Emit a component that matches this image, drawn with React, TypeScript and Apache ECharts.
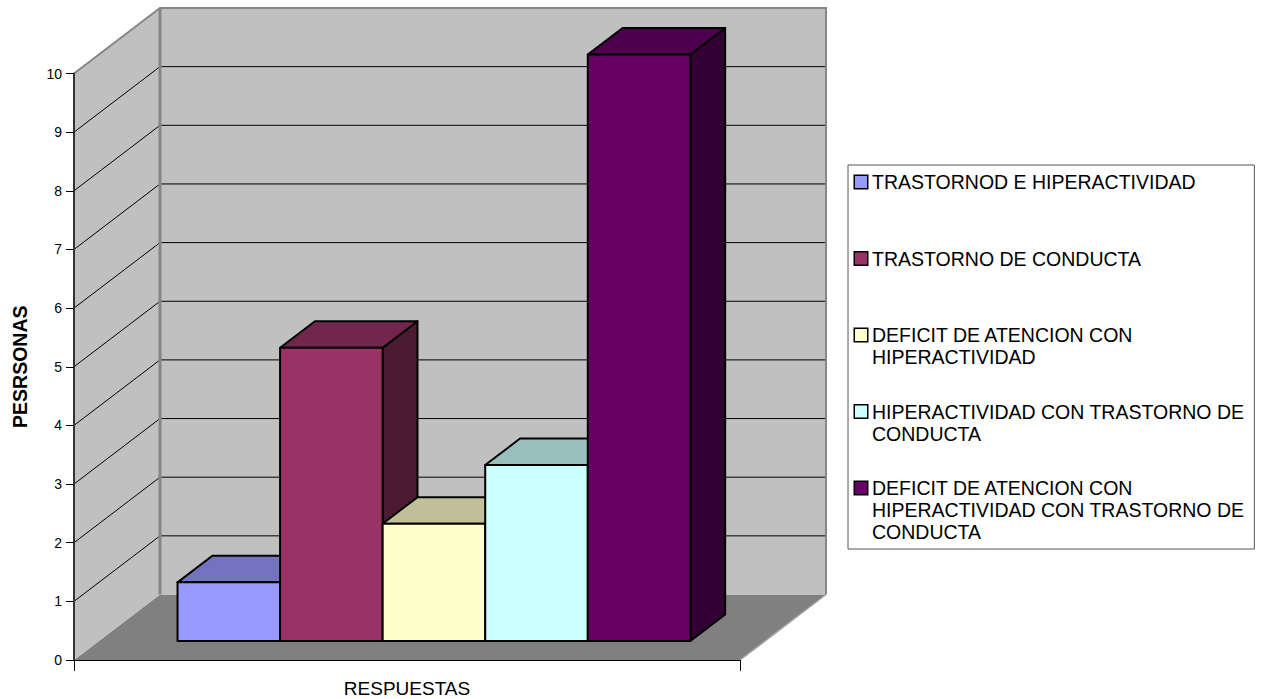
import React, { useEffect, useRef } from 'react';
import * as echarts from 'echarts';

// ---- data ----
const categories = ['RESPUESTAS'];
const seriesNames = [
  'TRASTORNOD E HIPERACTIVIDAD',
  'TRASTORNO DE CONDUCTA',
  'DEFICIT DE ATENCION CON HIPERACTIVIDAD',
  'HIPERACTIVIDAD CON TRASTORNO DE CONDUCTA',
  'DEFICIT DE ATENCION CON HIPERACTIVIDAD CON TRASTORNO DE CONDUCTA',
];
const seriesValues = [1, 5, 2, 3, 10];
const yTicks = [0, 1, 2, 3, 4, 5, 6, 7, 8, 9, 10];
const legendLines = [
  ['TRASTORNOD E HIPERACTIVIDAD'],
  ['TRASTORNO DE CONDUCTA'],
  ['DEFICIT DE ATENCION CON', 'HIPERACTIVIDAD'],
  ['HIPERACTIVIDAD CON TRASTORNO DE', 'CONDUCTA'],
  ['DEFICIT DE ATENCION CON', 'HIPERACTIVIDAD CON TRASTORNO DE', 'CONDUCTA'],
];
const yAxisTitle = 'PESRSONAS';

// ---- styles ----
const palette = ['#9999FF', '#993366', '#FFFFCC', '#CCFFFF', '#660066'];
const FONT = '"Liberation Sans", Arial, sans-serif';
const DX = 86; // depth offset of the floor (px)
const DY = 65.5;
const F0 = 0.29; // bar front depth fraction
const F1 = 0.695; // bar back depth fraction
const CLUSTER = 0.77; // fraction of category band used by bars
const CLUSTER_SHIFT = 0.003; // small rightward shift of the cluster (fraction of band)

function shade(hex: string, f: number): string {
  const n = parseInt(hex.slice(1), 16);
  const r = Math.round(((n >> 16) & 255) * f);
  const g = Math.round(((n >> 8) & 255) * f);
  const b = Math.round((n & 255) * f);
  return 'rgb(' + r + ',' + g + ',' + b + ')';
}

export default function App() {
  const ref = useRef<HTMLDivElement>(null);
  useEffect(() => {
    if (!ref.current) return;
    const chart = echarts.init(ref.current, null, { renderer: 'svg' });
    const yMin = yTicks[0];
    const yMax = yTicks[yTicks.length - 1];

    const wallSeries: any = {
      type: 'custom',
      name: '__walls',
      z: -1,
      silent: true,
      data: [[0, 0]],
      renderItem: (params: any, api: any) => {
        const cs = params.coordSys;
        const x0 = cs.x;
        const x1 = cs.x + cs.width;
        const yB = api.coord([0, yMin])[1];
        const yT = api.coord([0, yMax])[1];
        const children: any[] = [];
        children.push({
          type: 'polygon',
          shape: { points: [[x0, yB], [x1, yB], [x1 + DX, yB - DY], [x0 + DX, yB - DY]] },
          style: { fill: '#808080', stroke: null },
        });
        children.push({
          type: 'rect',
          shape: { x: x0 + DX, y: yT - DY, width: x1 - x0, height: yB - yT },
          style: { fill: '#C0C0C0', stroke: null },
        });
        children.push({
          type: 'polygon',
          shape: { points: [[x0, yB], [x0, yT], [x0 + DX, yT - DY], [x0 + DX, yB - DY]] },
          style: { fill: '#C0C0C0', stroke: null },
        });
        yTicks.forEach((t) => {
          if (t === yMin || t === yMax) return;
          const y = api.coord([0, t])[1];
          children.push({
            type: 'line',
            shape: { x1: x0 + DX, y1: y - DY, x2: x1 + DX, y2: y - DY },
            style: { stroke: '#000', lineWidth: 1 },
          });
          children.push({
            type: 'line',
            shape: { x1: x0, y1: y, x2: x0 + DX, y2: y - DY },
            style: { stroke: '#000', lineWidth: 1 },
          });
        });
        children.push({
          type: 'polyline',
          shape: { points: [[x0, yT], [x0 + DX, yT - DY], [x1 + DX, yT - DY], [x1 + DX, yB - DY]] },
          style: { stroke: '#868686', lineWidth: 2, fill: null },
        });
        children.push({
          type: 'line',
          shape: { x1: x0 + DX, y1: yT - DY, x2: x0 + DX, y2: yB - DY },
          style: { stroke: '#868686', lineWidth: 3 },
        });
        children.push({
          type: 'line',
          shape: { x1: x1, y1: yB, x2: x1 + DX, y2: yB - DY },
          style: { stroke: '#A0A0A0', lineWidth: 1.5 },
        });
        return { type: 'group', children };
      },
    };

    const barSeries = seriesNames.map((name, i) => ({
      type: 'custom',
      name,
      z: 3,
      data: [[0, seriesValues[i]]],
      encode: { x: 0, y: 1 },
      itemStyle: { color: palette[i] },
      renderItem: (params: any, api: any) => {
        const c = palette[i];
        const v = api.value(1);
        const base = api.coord([api.value(0), 0]);
        const top = api.coord([api.value(0), v]);
        const band = api.size([1, 0])[0];
        const clusterW = band * CLUSTER;
        const barW = clusterW / seriesNames.length;
        const x = base[0] - clusterW / 2 + band * CLUSTER_SHIFT + i * barW + F0 * DX;
        const yB = base[1] - F0 * DY;
        const yT = top[1] - F0 * DY;
        const ddx = (F1 - F0) * DX;
        const ddy = (F1 - F0) * DY;
        const st = { stroke: '#000', lineWidth: 2, lineJoin: 'round' };
        return {
          type: 'group',
          children: [
            {
              type: 'polygon',
              shape: { points: [[x + barW, yT], [x + barW, yB], [x + barW + ddx, yB - ddy], [x + barW + ddx, yT - ddy]] },
              style: { fill: shade(c, 0.5), ...st },
            },
            {
              type: 'polygon',
              shape: { points: [[x, yT], [x + barW, yT], [x + barW + ddx, yT - ddy], [x + ddx, yT - ddy]] },
              style: { fill: shade(c, 0.75), ...st },
            },
            {
              type: 'rect',
              shape: { x, y: yT, width: barW, height: yB - yT },
              style: { fill: c, ...st },
            },
          ],
        };
      },
    }));

    const rich: any = {
      g: { width: 5, height: 12 },
      s: { width: 17, height: 12, lineHeight: 22 },
      t: { fontSize: 19.5, lineHeight: 22, color: '#000', fontFamily: FONT },
    };
    palette.forEach((c, i) => {
      rich['c' + i] = { width: 12, height: 12, backgroundColor: c, borderColor: '#000', borderWidth: 1.5 };
    });

    chart.setOption({
      animation: false,
      backgroundColor: '#fff',
      textStyle: { fontFamily: FONT },
      grid: { left: 74, top: 73.5, width: 666, height: 586.5, show: false },
      legend: {
        orient: 'vertical',
        left: 848,
        top: 165,
        icon: 'none',
        itemWidth: 0,
        itemHeight: 14,
        itemGap: 10.5,
        padding: [6, 10, 6, 2],
        borderColor: '#555',
        borderWidth: 1,
        selectedMode: false,
        data: seriesNames,
        textStyle: { fontSize: 19.5, lineHeight: 22, color: '#000', fontFamily: FONT, rich },
        formatter: (name: string) => {
          const i = seriesNames.indexOf(name);
          const lines = legendLines[i];
          const out: string[] = [];
          for (let k = 0; k < 3; k++) {
            if (k === 0) out.push('{c' + i + '|}{g|}{t|' + lines[0] + '}');
            else if (k < lines.length) out.push('{s|}{t|' + lines[k] + '}');
            else out.push('{s|}');
          }
          return out.join('\n');
        },
      },
      xAxis: {
        type: 'category',
        data: categories,
        boundaryGap: true,
        axisLine: { show: true, lineStyle: { color: '#000', width: 1 } },
        axisTick: { show: true, length: 11, lineStyle: { color: '#000' } },
        axisLabel: { fontSize: 19, color: '#000', margin: 19, fontFamily: FONT },
      },
      yAxis: {
        type: 'value',
        min: yMin,
        max: yMax,
        interval: 1,
        name: yAxisTitle,
        nameLocation: 'middle',
        nameRotate: 90,
        nameGap: 44,
        nameTextStyle: { fontSize: 19.5, fontWeight: 'bold', color: '#000', fontFamily: FONT },
        axisLine: { show: true, lineStyle: { color: '#333', width: 2 } },
        axisTick: { show: true, length: 8, lineStyle: { color: '#000' } },
        splitLine: { show: false },
        axisLabel: { fontSize: 14, color: '#000', margin: 12, fontFamily: FONT },
      },
      series: [wallSeries, ...barSeries],
    });
    return () => chart.dispose();
  }, []);
  return (
    <div
      ref={ref}
      style={{ position: 'fixed', left: 0, top: 0, width: 1262, height: 699 }}
    />
  );
}
